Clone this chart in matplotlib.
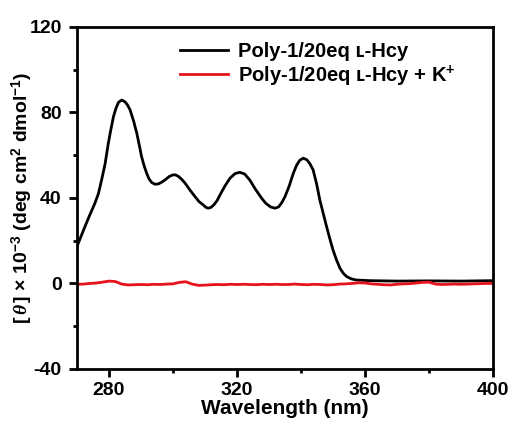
import numpy as np
import matplotlib
matplotlib.use('Agg')
import matplotlib.pyplot as plt
from matplotlib.ticker import MultipleLocator

plt.rcParams['font.family'] = ['Liberation Sans', 'DejaVu Sans']
plt.rcParams['font.weight'] = 'bold'
plt.rcParams['axes.unicode_minus'] = False
plt.rcParams['mathtext.fontset'] = 'custom'
plt.rcParams['mathtext.rm'] = 'Liberation Sans:bold'
plt.rcParams['mathtext.bf'] = 'Liberation Sans:bold'
plt.rcParams['mathtext.it'] = 'Liberation Serif:italic'

# black curve: Poly-1/20eq L-Hcy
black_wl = [270, 271, 272.5, 274, 275.6, 276.7, 277.7, 278.8, 279.8, 280.6,
            281.4, 282.2, 283, 284, 285, 285.8, 286.6, 287.7, 288.7, 289.5,
            290.2, 291, 291.8, 292.5, 293.3, 294.4, 295.5, 296.5, 297.5, 298.8,
            300, 300.8, 301.8, 302.8, 303.8, 305.3, 306.9, 308.2, 309.5, 310.3,
            311, 311.9, 312.8, 313.8, 314.7, 316.2, 317.8, 319.4, 320.9, 322.4,
            324, 325.8, 327.7, 329, 330.5, 331.9, 333, 334, 335, 336.3,
            337.6, 338.6, 339.6, 340.7, 341.8, 342.8, 343.8, 344.9, 345.9, 347,
            348, 349, 350, 351.1, 352.2, 353.2, 354.3, 355.8, 357.3, 361.6,
            370, 380, 390, 400]
black_val = [17.2, 21, 26.6, 32, 37.5, 42, 48.4, 56, 65.6, 72,
             78, 82, 84.8, 85.8, 85, 83.5, 81.2, 76, 70.3, 64.5,
             59.3, 55, 51.5, 49, 47.3, 46.4, 46.6, 47.4, 48.4, 50,
             50.8, 50.8, 50, 48.6, 46.9, 43.7, 40.6, 38.2, 36.7, 35.6,
             35.2, 35.6, 36.8, 38.8, 41.4, 45.5, 49.2, 51.4, 52, 51.2,
             48.4, 44, 39.9, 37.5, 35.8, 35.2, 35.8, 37.8, 40.6, 45.5,
             51.5, 55.2, 57.6, 58.6, 57.9, 56, 53.1, 46.5, 39, 32.5,
             26.6, 21, 15.7, 11, 7.1, 4.8, 3.2, 2.1, 1.6, 1.3,
             1.1, 1.2, 1.1, 1.3]

# red curve: + K+
red_wl = list(range(270, 401, 2))
red_val = [-0.4, -0.3, 0.0, 0.2, 0.6, 1.1, 0.9, -0.3, -0.7, -0.6,
           -0.5, -0.6, -0.4, -0.5, -0.3, -0.2, 0.5, 0.8, -0.3, -0.9,
           -0.8, -0.6, -0.5, -0.6, -0.4, -0.5, -0.4, -0.5, -0.6, -0.4,
           -0.5, -0.4, -0.5, -0.5, -0.3, -0.5, -0.6, -0.4, -0.5, -0.7,
           -0.6, -0.3, -0.2, 0.0, 0.3, 0.2, -0.2, -0.4, -0.6, -0.7,
           -0.4, -0.2, -0.1, 0.2, 0.5, 0.6, -0.3, -0.5, -0.4, -0.3,
           -0.4, -0.3, -0.2, -0.1, 0.0, 0.0]

fig = plt.figure(figsize=(5.13, 4.28), dpi=100)
ax = fig.add_axes([0.150, 0.138, 0.811, 0.799])

ax.plot(black_wl, black_val, color='black', lw=2.0, solid_joinstyle='round',
        label='Poly-1/20eq \u029f-Hcy')
ax.plot(red_wl, red_val, color='#e8121a', lw=2.0,
        label='Poly-1/20eq \u029f-Hcy + K$^{+}$')

ax.set_xlim(270, 400)
ax.set_ylim(-40, 120)
ax.xaxis.set_major_locator(MultipleLocator(40))
ax.xaxis.set_minor_locator(MultipleLocator(20))
ax.yaxis.set_major_locator(MultipleLocator(40))
ax.yaxis.set_minor_locator(MultipleLocator(20))
ax.tick_params(which='major', direction='out', length=6, width=2, labelsize=14)
ax.tick_params(which='minor', direction='out', length=3, width=2)
ax.tick_params(axis='y', which='major', pad=5)
for s in ax.spines.values():
    s.set_linewidth(2)

ax.set_xlabel('Wavelength (nm)', fontsize=15, fontweight='bold', labelpad=0)
ax.set_ylabel(r'[$\,\theta\,$] $\times$ 10$^{-3}$ (deg cm$^{2}$ dmol$^{-1}$)',
              fontsize=14, fontweight='bold')
ax.yaxis.set_label_coords(-0.10, 0.5)

leg = ax.legend(loc='upper left', frameon=False, fontsize=14.5,
                handlelength=2.4, handletextpad=0.45, labelspacing=0.12,
                borderpad=0, borderaxespad=0,
                bbox_to_anchor=(0.248, 0.957))

fig.savefig('out.png', dpi=100)
